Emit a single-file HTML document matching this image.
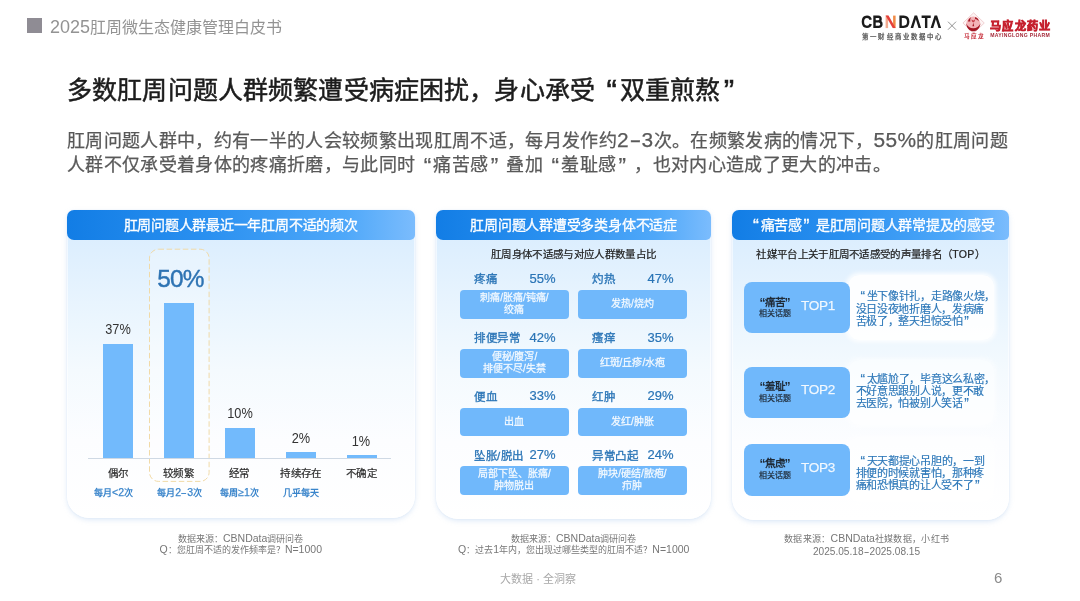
<!DOCTYPE html>
<html lang="zh-CN">
<head>
<meta charset="utf-8">
<title>2025肛周微生态健康管理白皮书</title>
<style>
html,body{margin:0;padding:0}
body{width:1080px;height:601px;position:relative;overflow:hidden;background:#fff;font-family:"Liberation Sans",sans-serif;color:#222}
#page{position:absolute;left:0;top:0;width:1080px;height:601px;overflow:hidden;background:#fff;will-change:transform}
.a{position:absolute;white-space:nowrap;margin:0}
.c{text-align:center}
.j{text-align:justify;text-align-last:justify}
.hd .j{display:block}
.lq,.rq{display:inline-block;width:.8em;font-size:1.25em;line-height:0;vertical-align:-.09em;box-sizing:border-box;letter-spacing:0}
.lq{text-align:right;text-align-last:right;padding-right:.1em}
.rq{text-align:left;text-align-last:left;padding-left:.1em}
.n{font-size:116%;line-height:0}
.d{display:inline-block;transform:scaleX(1.7);margin:0 .13em}
/* top bar */
#sq{left:27px;top:18px;width:15px;height:15px;background:#8f8c94}
#doc{left:50px;top:15.5px;font-size:16px;line-height:24px;color:#939393}
#doc .n{font-size:18px}
/* title */
#title{left:67px;top:73px;letter-spacing:.14px;font-size:25px;line-height:34px;color:#1c1c1c;font-weight:400;-webkit-text-stroke:.5px #1c1c1c}
.lead{left:67px;font-size:18px;line-height:24px;color:#595959;letter-spacing:.33px;-webkit-text-stroke:.25px #595959}
/* panels */
.panel{position:absolute;top:210px;border-radius:7px 7px 22px 22px;background:linear-gradient(180deg,#dceefe 30px,#e8f4fe 30%,#f4fafe 52%,#fcfdff 75%,#fff 100%);box-shadow:0 2px 5px rgba(165,198,235,.36),0 0 1px rgba(150,185,225,.35),inset 0 0 0 1px rgba(255,255,255,.55)}
.hd{-webkit-text-stroke:.3px #fff;position:absolute;left:0;top:0;right:0;height:30px;border-radius:7px 7px 5px 7px;background:linear-gradient(90deg,#127de5 0%,#2a90f0 40%,#4fa8f9 80%,#7bbcfd 100%);color:#fff;font-size:14px;letter-spacing:-.25px;line-height:31px;text-align:center;white-space:nowrap}
.src{font-size:9px;letter-spacing:0;line-height:12px;color:#777;text-align:center}
.src .n{font-size:10.5px;letter-spacing:0}
/* chart */
.bar{position:absolute;background:#72bafc}
.val{font-size:14px;line-height:16px;transform:scaleX(.91);color:#333;text-align:center;width:60px}
.cat{font-size:10.5px;letter-spacing:.45px;line-height:14px;color:#2b2b2b;-webkit-text-stroke:.2px #2b2b2b;text-align:center;width:70px;top:466px}
.sub .n{font-size:10.5px;letter-spacing:0;font-weight:400;-webkit-text-stroke:.25px #3a85cb}
.sub{font-size:9px;letter-spacing:.2px;line-height:12px;color:#3a85cb;text-align:center;width:70px;top:487px;font-weight:700}
/* symptoms */
.sl{font-size:11.5px;letter-spacing:.5px;line-height:16px;color:#2974b6;-webkit-text-stroke:.3px #2974b6}
.sp{font-size:13px;line-height:16px;color:#2974b6;-webkit-text-stroke:.2px #2974b6}
.pill{position:absolute;width:108.8px;height:28.5px;border-radius:4px;background:#70b8fb;color:rgba(255,255,255,.9);-webkit-text-stroke:.3px rgba(255,255,255,.7);font-size:10px;line-height:12.5px;text-align:center;white-space:nowrap;display:flex;align-items:center;justify-content:center}
/* top3 */
.card{position:absolute;left:848px;width:146px;height:65px;border-radius:11px;background:rgba(255,255,255,.9);box-shadow:0 0 4px 2px rgba(255,255,255,.9)}
.box{position:absolute;left:744px;width:106px;height:51.5px;border-radius:8px;background:#70b8fb}
.bt{font-size:10.5px;line-height:14px;font-weight:700;color:#1f2a36;text-align:center;width:44px;left:752.5px}
.bt .lq,.bt .rq{width:.42em;padding:0;font-size:1.15em}
.bs{font-size:8px;line-height:10px;color:#1f2a36;text-align:center;width:44px;left:752.5px;-webkit-text-stroke:.2px #1f2a36}
.top{font-size:13.6px;line-height:18px;color:rgba(255,255,255,.88);-webkit-text-stroke:.25px rgba(255,255,255,.7);left:801px;letter-spacing:-.3px}
.q{left:855.5px;font-size:11px;letter-spacing:-.3px;line-height:12px;color:#2a76b8;-webkit-text-stroke:.15px #2a76b8}
</style>
</head>
<body>
<div id="page">
<!-- header -->
<div class="a" id="sq"></div>
<div class="a j" id="doc" style="left:50.0px;width:232.3px;"><span class="n">2025</span>肛周微生态健康管理白皮书</div>

<!-- logos -->
<svg class="a" style="left:850px;top:5px" width="220" height="45" viewBox="850 5 220 45">
<defs><linearGradient id="ng" x1="0" y1="0" x2="1" y2="0"><stop offset="0" stop-color="#f4a98d"/><stop offset="1" stop-color="#f0843f"/></linearGradient></defs>
<g fill="none" stroke="#1b1b1b" stroke-width="2.4">
<path d="M870.7 19.7C870.2 17.7 868.9 16.8 867 16.8C864.3 16.8 862.9 18.8 862.9 21.85C862.9 24.9 864.3 26.9 867 26.9C868.9 26.9 870.2 26 870.7 24"/>
<path d="M874.5 15.6V26.9H878.7A2.75 2.75 0 0 0 878.7 21.4H874.5M878.3 21.4A2.3 2.3 0 0 0 878.3 16.8H874.5"/>
<path d="M900.6 16.8V26.9H903.6C906.8 26.9 908.2 24.9 908.2 21.85C908.2 18.8 906.8 16.8 903.6 16.8Z"/>
</g>
<g fill="#1b1b1b">
<path d="M910.6 28.1L914.6 15.6H917.1L921.1 28.1H918.5L915.85 19.3L913.2 28.1Z"/>
<path d="M930.6 28.1L934.6 15.6H937.1L941.1 28.1H938.5L935.85 19.3L933.2 28.1Z"/>
<path d="M921.6 15.6H930.7V18H927.35V28.1H924.95V18H921.6Z"/>
</g>
<rect x="885.6" y="15.6" width="2.5" height="12.5" fill="#f4ab90"/>
<rect x="893.1" y="15.6" width="2.5" height="12.5" fill="#f08a45"/>
<path d="M885.6 15.6H888.5L895.6 28.1H892.7Z" fill="#e5403a"/>
<path d="M948 21.7L956 29.7M956 21.7L948 29.7" stroke="#777" stroke-width=".8"/>
<!-- mayinglong emblem -->
<path d="M973.6 12.8L984.3 23L973.6 33.2L962.9 23Z" fill="#fdf4f4" stroke="#e9bfc2" stroke-width=".7"/>
<circle cx="973.3" cy="23.6" r="7" fill="#f3b4b8"/>
<path d="M966.2 23.4C966.8 28.6 969.8 31.2 973.3 31.2C976.8 31.2 979.8 28.6 980.4 23.4C979 26.6 976.6 28.2 973.3 28.2C970 28.2 967.6 26.6 966.2 23.4Z" fill="#a31724"/>
<path d="M968 21.6C968.2 19.6 969.4 18 971.2 17.2C970.2 18.6 970 20 970.4 21.4ZM975.2 17C977.2 17.6 978.6 19.2 978.8 21.4C977.8 20 976.6 19.2 975 19ZM972.4 26.2L973.3 22.8L974.2 26.2Z" fill="#a31724"/>
<path d="M971.4 19.4L973.4 20.6L975.2 19.2L974.6 21.6L973.2 22.4L972 21.6Z" fill="#c8404a"/>
</svg>
<div class="a" style="left:862.3px;top:32.2px;font-size:6.4px;line-height:9px;letter-spacing:2.1px;color:#555;-webkit-text-stroke:.25px #555">第一财经商业数据中心</div>
<div class="a" style="left:963.8px;top:32px;font-size:5.6px;line-height:9px;letter-spacing:.9px;color:#c3202d;font-weight:700">马应龙</div>
<div class="a" style="left:990.2px;top:18.2px;font-size:11.2px;line-height:17px;letter-spacing:1.2px;color:#c5202e;font-weight:700;-webkit-text-stroke:.7px #c5202e">马应龙药业</div>
<div class="a" style="left:990.2px;top:32.4px;font-size:5.1px;line-height:7px;color:#a52a3a;font-weight:700;letter-spacing:.32px">MAYINGLONG PHARM</div>

<!-- title -->
<h1 class="a j" id="title" style="width:675px">多数肛周问题人群频繁遭受病症困扰，身心承受<span class="lq">“</span>双重煎熬<span class="rq">”</span></h1>
<p class="a lead j" style="top:129.3px;width:941px">肛周问题人群中，约有一半的人会较频繁出现肛周不适，每月发作约<span class="n">2<span class="d">-</span>3</span>次。在频繁发病的情况下，<span class="n">55%</span>的肛周问题</p>
<p class="a lead j" style="top:153px;width:824px">人群不仅承受着身体的疼痛折磨，与此同时<span class="lq">“</span>痛苦感<span class="rq">”</span>叠加<span class="lq">“</span>羞耻感<span class="rq">”</span>，也对内心造成了更大的冲击。</p>

<!-- panel 1 -->
<div class="panel" style="left:66.5px;width:348.5px;height:308px"><div class="hd"><span class="j" style="margin-left:57.1px;width:234px">肛周问题人群最近一年肛周不适的频次</span></div></div>
<svg class="a" style="left:146px;top:246px" width="68" height="240" viewBox="146 246 68 240"><rect x="149.5" y="249.2" width="59.6" height="232.2" rx="9" ry="9" fill="rgba(255,255,255,.25)" stroke="#f0d8a2" stroke-width=".95" stroke-dasharray="5.5 2.6"/></svg>
<div class="a" style="left:88px;top:458px;width:303px;height:1px;background:#cfd9e4"></div>
<div class="bar" style="left:103px;top:344px;width:30px;height:114px"></div>
<div class="bar" style="left:163.5px;top:303px;width:30px;height:155px"></div>
<div class="bar" style="left:224.5px;top:428px;width:30px;height:30px"></div>
<div class="bar" style="left:286px;top:451.5px;width:30px;height:6.5px"></div>
<div class="bar" style="left:346.5px;top:455px;width:30px;height:3px"></div>
<div class="a val" style="left:88px;top:320.5px">37%</div>
<div class="a c" style="left:140.5px;top:264px;width:80px;font-size:24.4px;line-height:30px;color:#2d73b3;letter-spacing:-.8px;-webkit-text-stroke:.4px #2d73b3">50%</div>
<div class="a val" style="left:209.5px;top:404.5px">10%</div>
<div class="a val" style="left:270.5px;top:429.5px">2%</div>
<div class="a val" style="left:330.5px;top:432.5px">1%</div>
<div class="a cat" style="left:83px">偶尔</div>
<div class="a cat" style="left:143.5px">较频繁</div>
<div class="a cat" style="left:204.5px">经常</div>
<div class="a cat" style="left:266px">持续存在</div>
<div class="a cat" style="left:326.5px">不确定</div>
<div class="a sub" style="left:78.5px">每月<span class="n">&lt;2</span>次</div>
<div class="a sub" style="left:144.5px">每月<span class="n">2<span class="d">-</span>3</span>次</div>
<div class="a sub" style="left:204.5px">每周<span class="n">≥1</span>次</div>
<div class="a sub" style="left:266px">几乎每天</div>
<div class="a src j" style="left:177.8px;width:125.7px;top:533px">数据来源：<span class="n">CBNData</span>调研问卷</div>
<div class="a src j" style="left:159.4px;width:162.6px;top:543.6px"><span class="n">Q</span>：您肛周不适的发作频率是？<span class="n">N=1000</span></div>

<!-- panel 2 -->
<div class="panel" style="left:436px;width:275px;height:309px"><div class="hd"><span class="j" style="margin-left:34.4px;width:206.4px">肛周问题人群遭受多类身体不适症</span></div></div>
<div class="a c sub2 j" style="left:491.1px;width:165.1px;top:246px;font-size:10.5px;letter-spacing:.3px;line-height:16px;color:#222;-webkit-text-stroke:.22px #222">肛周身体不适感与对应人群数量占比</div>

<div class="a sl" style="left:474px;top:271px">疼痛</div><div class="a sp" style="left:529.5px;top:270.5px">55%</div>
<div class="a sl" style="left:592px;top:271px">灼热</div><div class="a sp" style="left:647.5px;top:270.5px">47%</div>
<div class="pill" style="left:460px;top:290px">刺痛/胀痛/钝痛/<br>绞痛</div>
<div class="pill" style="left:578px;top:290px">发热/烧灼</div>

<div class="a sl" style="left:474px;top:330px">排便异常</div><div class="a sp" style="left:529.5px;top:329.5px">42%</div>
<div class="a sl" style="left:592px;top:330px">瘙痒</div><div class="a sp" style="left:647.5px;top:329.5px">35%</div>
<div class="pill" style="left:460px;top:349px">便秘/腹泻/<br>排便不尽/失禁</div>
<div class="pill" style="left:578px;top:349px">红斑/丘疹/水疱</div>

<div class="a sl" style="left:474px;top:388.5px">便血</div><div class="a sp" style="left:529.5px;top:388px">33%</div>
<div class="a sl" style="left:592px;top:388.5px">红肿</div><div class="a sp" style="left:647.5px;top:388px">29%</div>
<div class="pill" style="left:460px;top:407.5px">出血</div>
<div class="pill" style="left:578px;top:407.5px">发红/肿胀</div>

<div class="a sl" style="left:474px;top:448.3px">坠胀/脱出</div><div class="a sp" style="left:529.5px;top:447px">27%</div>
<div class="a sl" style="left:592px;top:448.3px">异常凸起</div><div class="a sp" style="left:647.5px;top:447px">24%</div>
<div class="pill" style="left:460px;top:466px">局部下坠、胀痛/<br>肿物脱出</div>
<div class="pill" style="left:578px;top:466px">肿块/硬结/脓疱/<br>疖肿</div>

<div class="a src j" style="left:510.8px;width:125.7px;top:533px">数据来源：<span class="n">CBNData</span>调研问卷</div>
<div class="a src j" style="left:458.0px;width:231.4px;top:543.6px"><span class="n">Q</span>：过去<span class="n">1</span>年内，您出现过哪些类型的肛周不适？<span class="n">N=1000</span></div>

<!-- panel 3 -->
<div class="panel" style="left:732px;width:277px;height:310px"><div class="hd"><span class="j" style="margin-left:14.5px;width:247.6px"><span class="lq">“</span>痛苦感<span class="rq">”</span>是肛周问题人群常提及的感受</span></div></div>
<div class="a c sub2 j" style="left:756.3px;width:228.6px;top:246px;font-size:10.5px;letter-spacing:.3px;line-height:16px;color:#222;-webkit-text-stroke:.22px #222">社媒平台上关于肛周不适感受的声量排名（TOP）</div>

<div class="card" style="top:275px"></div>
<div class="box" style="top:281.5px"></div>
<div class="a bt" style="top:294.7px"><span class="lq">“</span>痛苦<span class="rq">”</span></div><div class="a bs" style="top:308.8px">相关话题</div>
<div class="a top" style="top:296.5px">TOP1</div>
<div class="a q j" style="left:855.5px;width:139.7px;top:289.7px"><span class="lq">“</span>坐下像针扎，走路像火烧，</div>
<div class="a q j" style="left:855.5px;width:128.7px;top:302.7px">没日没夜地折磨人，发病痛</div>
<div class="a q j" style="left:855.5px;width:118.3px;top:314.7px">苦极了，整天担惊受怕<span class="rq">”</span></div>

<div class="card" style="top:360px;opacity:.6"></div>
<div class="box" style="top:366.5px"></div>
<div class="a bt" style="top:378.7px"><span class="lq">“</span>羞耻<span class="rq">”</span></div><div class="a bs" style="top:393.6px">相关话题</div>
<div class="a top" style="top:381.3px">TOP2</div>
<div class="a q j" style="left:855.5px;width:139.7px;top:372.7px"><span class="lq">“</span>太尴尬了，毕竟这么私密，</div>
<div class="a q j" style="left:855.5px;width:128.7px;top:385.2px">不好意思跟别人说，更不敢</div>
<div class="a q j" style="left:855.5px;width:118.3px;top:397.2px">去医院，怕被别人笑话<span class="rq">”</span></div>

<div class="card" style="top:437px;opacity:.4"></div>
<div class="box" style="top:444px"></div>
<div class="a bt" style="top:455.5px"><span class="lq">“</span>焦虑<span class="rq">”</span></div><div class="a bs" style="top:470.8px">相关话题</div>
<div class="a top" style="top:458.5px">TOP3</div>
<div class="a q j" style="left:855.5px;width:129.0px;top:454.7px"><span class="lq">“</span>天天都提心吊胆的，一到</div>
<div class="a q j" style="left:855.5px;width:128.7px;top:467.2px">排便的时候就害怕，那种疼</div>
<div class="a q j" style="left:855.5px;width:129.0px;top:479.2px">痛和恐惧真的让人受不了<span class="rq">”</span></div>

<div class="a src j" style="left:784.2px;width:164.9px;top:533px;letter-spacing:.25px">数据来源：<span class="n">CBNData</span>社媒数据，小红书</div>
<div class="a src j" style="left:813.0px;width:107.4px;top:546px"><span class="n" style="font-size:10.1px">2025.05.18<span class="d">-</span>2025.08.15</span></div>

<!-- footer -->
<div class="a c" style="left:488px;width:100px;top:572px;font-size:11px;line-height:14px;color:#a8a8a8">大数据 · 全洞察</div>
<div class="a" style="left:994px;top:567.7px;font-size:15px;line-height:20px;color:#8a8a8a">6</div>
</div>
</body>
</html>
